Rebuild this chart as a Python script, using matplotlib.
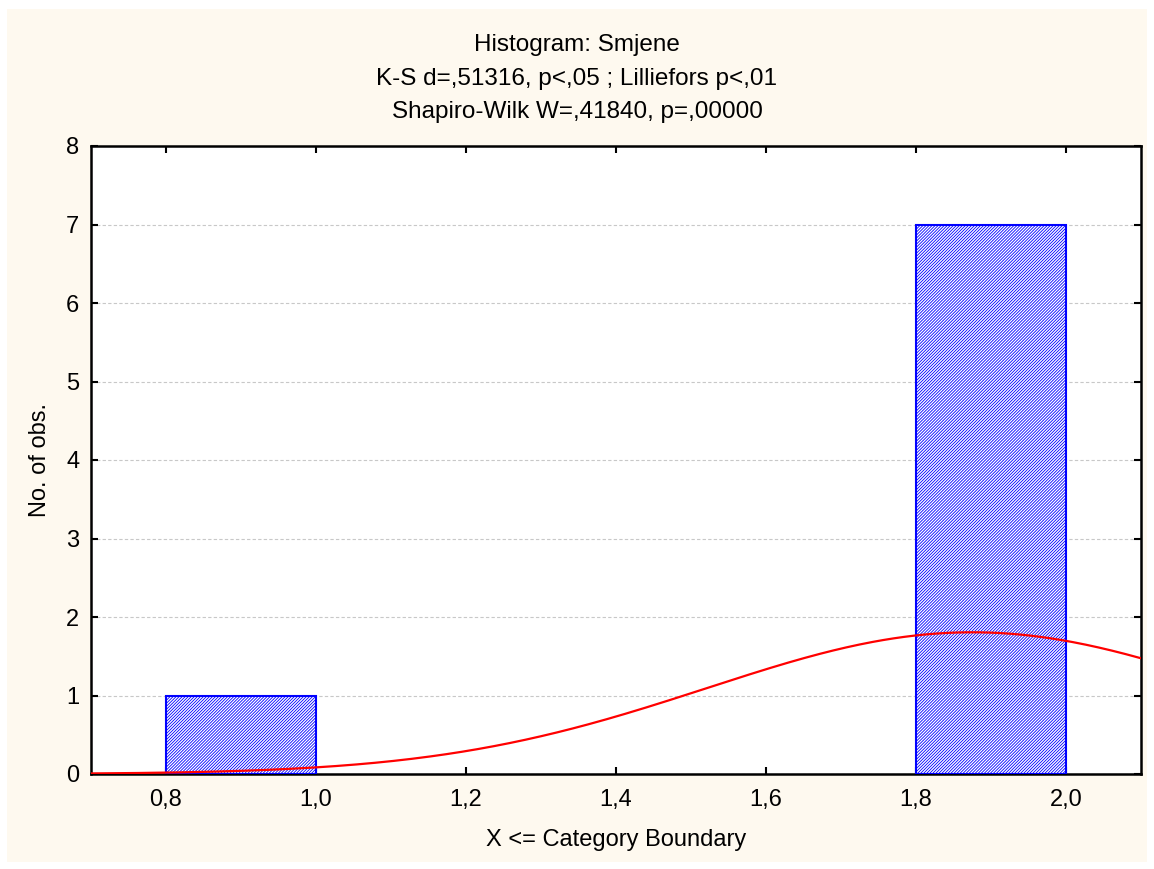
import numpy as np
import matplotlib
matplotlib.use("Agg")
import matplotlib.pyplot as plt
from matplotlib.patches import Rectangle

# observed values of "Smjene" (1 once, 2 seven times)
observations = [1, 2, 2, 2, 2, 2, 2, 2]
bin_edges = [0.8, 1.0, 1.2, 1.4, 1.6, 1.8, 2.0]
x_ticks = [0.8, 1.0, 1.2, 1.4, 1.6, 1.8, 2.0]
y_ticks = [0, 1, 2, 3, 4, 5, 6, 7, 8]
title_lines = ["Histogram: Smjene",
               "K-S d=,51316, p<,05 ; Lilliefors p<,01",
               "Shapiro-Wilk W=,41840, p=,00000"]

plt.rcParams['font.family'] = ['Liberation Sans', 'DejaVu Sans']
plt.rcParams['hatch.linewidth'] = 0.6
plt.rcParams['hatch.color'] = 'blue'

W, H = 1154, 869
fig = plt.figure(figsize=(W / 100, H / 100), dpi=100)
fig.patch.set_facecolor('white')
fig.patches.append(Rectangle((7 / W, 7 / H), 1140 / W, 853 / H, transform=fig.transFigure,
                             facecolor='#fef9ef', edgecolor='none', zorder=-5))

ax = fig.add_axes([91 / W, 1 - 774 / H, 1050 / W, 628 / H])
ax.set_facecolor('white')

# histogram: shift by half-width so bins cover (edge-0.2, edge] as in STATISTICA
values = np.array(observations, dtype=float) - 0.1
counts, edges = np.histogram(values, bins=bin_edges)
for left, c in zip(edges[:-1], counts):
    if c > 0:
        ax.bar(left, c, width=0.2, align='edge', facecolor='white',
               edgecolor='blue', hatch='/' * 11, linewidth=1.5, zorder=3)

# fitted normal curve scaled to expected counts
mu = np.mean(observations)
sd = np.std(observations, ddof=1)
xs = np.linspace(0.7, 2.1, 400)
ys = len(observations) * 0.2 * np.exp(-0.5 * ((xs - mu) / sd) ** 2) / (sd * np.sqrt(2 * np.pi))
ax.plot(xs, ys, color='red', linewidth=1.6, zorder=4)

ax.set_xlim(0.7, 2.1)
ax.set_ylim(0, 8)
ax.set_xticks(x_ticks)
ax.set_xticklabels([f"{t:.1f}".replace('.', ',') for t in x_ticks])
ax.set_yticks(y_ticks)
ax.yaxis.grid(True, linestyle=(0, (3, 2)), color='#c8c8c8', linewidth=0.8, zorder=0)
ax.set_axisbelow(True)
ax.tick_params(direction='in', length=5, width=1.5, top=True, right=True, labelsize=17)
ax.tick_params(axis='x', pad=10.5)
ax.tick_params(axis='y', pad=8.3)
for s in ax.spines.values():
    s.set_linewidth(1.8)

ax.set_xlabel("X <= Category Boundary", fontsize=17, labelpad=13)
ax.set_ylabel("No. of obs.", fontsize=17, labelpad=11)

for i, line in enumerate(title_lines):
    fig.text(0.5, 1 - (51 + 33.5 * i) / H, line, ha='center', va='baseline', fontsize=17.5)

fig.savefig('out.png', dpi=100)
